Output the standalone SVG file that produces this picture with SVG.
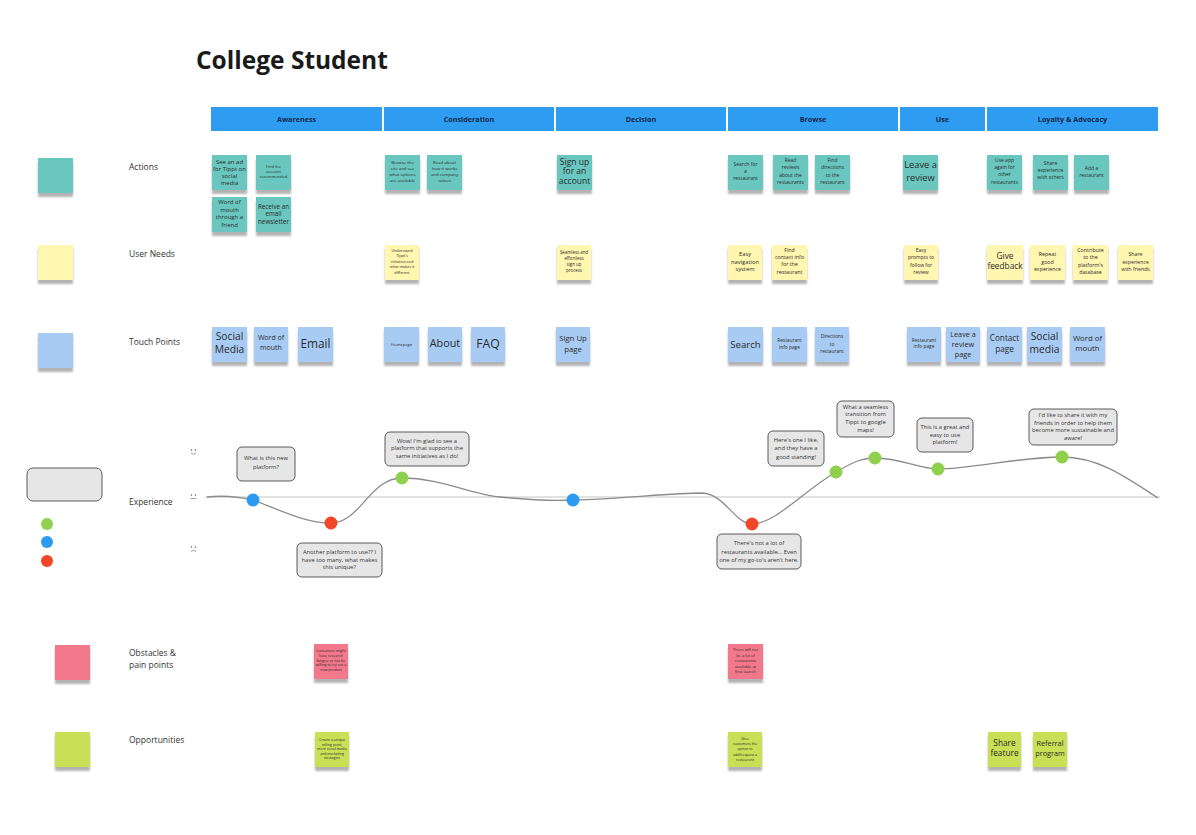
<svg xmlns="http://www.w3.org/2000/svg" width="1196" height="835" viewBox="0 0 1196 835">
<defs>
<filter id="sh" x="-30%" y="-30%" width="160%" height="170%">
<feGaussianBlur in="SourceAlpha" stdDeviation="1.2"/>
<feOffset dy="3.5"/>
<feComponentTransfer><feFuncA type="linear" slope="0.3"/></feComponentTransfer>
<feMerge><feMergeNode/><feMergeNode in="SourceGraphic"/></feMerge>
</filter>
</defs>
<style>
text{font-family:"Open Sans","Liberation Sans",sans-serif;fill:#2b2b2b;}
.c{text-anchor:middle;}
.teal{fill:#69c7c0;filter:url(#sh);}
.yel{fill:#fff6b0;filter:url(#sh);}
.blu{fill:#a8cbf3;filter:url(#sh);}
.pink{fill:#f2788c;filter:url(#sh);}
.grn{fill:#c9df57;filter:url(#sh);}
.hdr{fill:#2e9cf0;}
.htx{font-size:7.2px;font-weight:700;fill:#12284a;text-anchor:middle;}
.lbl{font-size:8.5px;fill:#333;}
.bub{fill:#e6e6e6;stroke:#5a5a5a;stroke-width:1;}
.bt{font-size:5.8px;fill:#333;text-anchor:middle;}
.dg{fill:#8fd14f;}
.db{fill:#2d9bf0;}
.dr{fill:#f24726;}
.face{fill:none;stroke:#777;stroke-width:0.7;}
</style>
<rect width="1196" height="835" fill="#ffffff"/>

<text x="196" y="69" style="font-size:24.5px;font-weight:700;fill:#1a1a1a">College Student</text>

<g id="stages">
<rect class="hdr" x="211" y="107" width="171" height="24"/><text class="htx" x="296.5" y="121.5">Awareness</text>
<rect class="hdr" x="384" y="107" width="170" height="24"/><text class="htx" x="469" y="121.5">Consideration</text>
<rect class="hdr" x="556" y="107" width="170" height="24"/><text class="htx" x="641" y="121.5">Decision</text>
<rect class="hdr" x="728" y="107" width="170" height="24"/><text class="htx" x="813" y="121.5">Browse</text>
<rect class="hdr" x="900" y="107" width="85" height="24"/><text class="htx" x="942.5" y="121.5">Use</text>
<rect class="hdr" x="987" y="107" width="171" height="24"/><text class="htx" x="1072.5" y="121.5">Loyalty &amp; Advocacy</text>
</g>

<g id="legend">
<rect class="teal" x="38" y="158" width="35" height="35"/>
<text class="lbl" x="129" y="169.5">Actions</text>
<rect class="yel" x="38" y="245" width="35" height="35"/>
<text class="lbl" x="129" y="257">User Needs</text>
<rect class="blu" x="38" y="333" width="35" height="35"/>
<text class="lbl" x="129" y="344.5">Touch Points</text>
<rect class="bub" x="27" y="468" width="75" height="33" rx="6"/>
<text class="lbl" x="129" y="505">Experience</text>
<circle class="dg" cx="47" cy="524" r="6"/>
<circle class="db" cx="47" cy="542" r="6"/>
<circle class="dr" cx="47" cy="561" r="6"/>
<rect class="pink" x="55" y="645" width="35" height="35"/>
<text class="lbl" x="129" y="656">Obstacles &amp;</text>
<text class="lbl" x="129" y="668">pain points</text>
<rect class="grn" x="55" y="732" width="35" height="35"/>
<text class="lbl" x="129" y="743">Opportunities</text>
</g>

<!-- Actions -->
<g id="a1"><rect class="teal" x="212" y="155" width="35" height="35"/><text class="c" style="font-size:6px"><tspan x="229.5" y="164">See an ad</tspan><tspan x="229.5" y="171">for Tippt on</tspan><tspan x="229.5" y="178">social</tspan><tspan x="229.5" y="185">media</tspan></text></g>
<g id="a2"><rect class="teal" x="256" y="155" width="35" height="35"/><text class="c" style="font-size:4px"><tspan x="273.5" y="168">Find the</tspan><tspan x="273.5" y="173">account</tspan><tspan x="273.5" y="178">recommended</tspan></text></g>
<g id="a3"><rect class="teal" x="212" y="197" width="35" height="35"/><text class="c" style="font-size:6px"><tspan x="229.5" y="204">Word of</tspan><tspan x="229.5" y="211.5">mouth</tspan><tspan x="229.5" y="219">through a</tspan><tspan x="229.5" y="226.5">friend</tspan></text></g>
<g id="a4"><rect class="teal" x="256" y="197" width="35" height="35"/><text class="c" style="font-size:6.3px"><tspan x="273.5" y="208.5">Receive an</tspan><tspan x="273.5" y="216">email</tspan><tspan x="273.5" y="223.5">newsletter</tspan></text></g>
<g id="a5"><rect class="teal" x="385" y="155" width="35" height="35"/><text class="c" style="font-size:4.3px"><tspan x="402.5" y="164">Browse the</tspan><tspan x="402.5" y="170">site and see</tspan><tspan x="402.5" y="176">what options</tspan><tspan x="402.5" y="182">are available</tspan></text></g>
<g id="a6"><rect class="teal" x="427" y="155" width="35" height="35"/><text class="c" style="font-size:4.3px"><tspan x="444.5" y="164">Read about</tspan><tspan x="444.5" y="170">how it works</tspan><tspan x="444.5" y="176">and company</tspan><tspan x="444.5" y="182">values</tspan></text></g>
<g id="a7"><rect class="teal" x="557" y="155" width="35" height="35"/><text class="c" style="font-size:8.5px"><tspan x="574.5" y="164.8">Sign up</tspan><tspan x="574.5" y="174.3">for an</tspan><tspan x="574.5" y="183.8">account</tspan></text></g>
<g id="a8"><rect class="teal" x="728" y="155" width="35" height="35"/><text class="c" style="font-size:5px"><tspan x="745.5" y="165.7">Search for</tspan><tspan x="745.5" y="172.8">a</tspan><tspan x="745.5" y="180.3">restaurant</tspan></text></g>
<g id="a9"><rect class="teal" x="773" y="155" width="35" height="35"/><text class="c" style="font-size:5px"><tspan x="790.5" y="161.7">Read</tspan><tspan x="790.5" y="169.1">reviews</tspan><tspan x="790.5" y="176.5">about the</tspan><tspan x="790.5" y="183.8">restaurants</tspan></text></g>
<g id="a10"><rect class="teal" x="815" y="155" width="35" height="35"/><text class="c" style="font-size:5px"><tspan x="832.5" y="161.7">Find</tspan><tspan x="832.5" y="169.1">directions</tspan><tspan x="832.5" y="176.5">to the</tspan><tspan x="832.5" y="183.8">restaurant</tspan></text></g>
<g id="a11"><rect class="teal" x="903" y="155" width="35" height="35"/><text class="c" style="font-size:9.3px"><tspan x="920.5" y="168.3">Leave a</tspan><tspan x="920.5" y="180.6">review</tspan></text></g>
<g id="a12"><rect class="teal" x="987" y="155" width="35" height="35"/><text class="c" style="font-size:5px"><tspan x="1004.5" y="161.7">Use app</tspan><tspan x="1004.5" y="169">again for</tspan><tspan x="1004.5" y="176.4">other</tspan><tspan x="1004.5" y="183.7">restaurants</tspan></text></g>
<g id="a13"><rect class="teal" x="1033" y="155" width="35" height="35"/><text class="c" style="font-size:5px"><tspan x="1050.5" y="165">Share</tspan><tspan x="1050.5" y="172.2">experience</tspan><tspan x="1050.5" y="179.3">with others</tspan></text></g>
<g id="a14"><rect class="teal" x="1074" y="155" width="35" height="35"/><text class="c" style="font-size:5px"><tspan x="1091.5" y="170">Add a</tspan><tspan x="1091.5" y="177">restaurant</tspan></text></g>

<!-- User needs -->
<g id="u1"><rect class="yel" x="385" y="245" width="34" height="35"/><text class="c" style="font-size:3.8px"><tspan x="402" y="251.5">Understand</tspan><tspan x="402" y="257">Tippt's</tspan><tspan x="402" y="262.5">initiative and</tspan><tspan x="402" y="268">what makes it</tspan><tspan x="402" y="273.5">different</tspan></text></g>
<g id="u2"><rect class="yel" x="557" y="245" width="34" height="35"/><text class="c" style="font-size:4.4px"><tspan x="574" y="254">Seamless and</tspan><tspan x="574" y="259.9">effortless</tspan><tspan x="574" y="265.8">sign up</tspan><tspan x="574" y="271.7">process</tspan></text></g>
<g id="u3"><rect class="yel" x="728" y="245" width="34" height="35"/><text class="c" style="font-size:5.8px"><tspan x="745" y="256.4">Easy</tspan><tspan x="745" y="263.5">navigation</tspan><tspan x="745" y="270.6">system</tspan></text></g>
<g id="u4"><rect class="yel" x="772" y="245" width="35" height="35"/><text class="c" style="font-size:5.3px"><tspan x="789.5" y="252">Find</tspan><tspan x="789.5" y="259.2">contact info</tspan><tspan x="789.5" y="266.4">for the</tspan><tspan x="789.5" y="273.6">restaurant</tspan></text></g>
<g id="u5"><rect class="yel" x="904" y="245" width="34" height="35"/><text class="c" style="font-size:5px"><tspan x="921" y="252">Easy</tspan><tspan x="921" y="259.4">prompts to</tspan><tspan x="921" y="266.8">follow for</tspan><tspan x="921" y="274.2">review</tspan></text></g>
<g id="u6"><rect class="yel" x="987" y="245" width="36" height="35"/><text class="c" style="font-size:8.3px"><tspan x="1005" y="259.3">Give</tspan><tspan x="1005" y="268.5">feedback</tspan></text></g>
<g id="u7"><rect class="yel" x="1030" y="245" width="35" height="35"/><text class="c" style="font-size:5.3px"><tspan x="1047.5" y="256.2">Repeat</tspan><tspan x="1047.5" y="263.5">good</tspan><tspan x="1047.5" y="270.8">experience</tspan></text></g>
<g id="u8"><rect class="yel" x="1073" y="245" width="35" height="35"/><text class="c" style="font-size:5.3px"><tspan x="1090.5" y="252">Contribute</tspan><tspan x="1090.5" y="259.4">to the</tspan><tspan x="1090.5" y="266.8">platform's</tspan><tspan x="1090.5" y="274.2">database</tspan></text></g>
<g id="u9"><rect class="yel" x="1118" y="245" width="35" height="35"/><text class="c" style="font-size:5.2px"><tspan x="1135.5" y="256.2">Share</tspan><tspan x="1135.5" y="263.5">experience</tspan><tspan x="1135.5" y="270.8">with friends</tspan></text></g>

<!-- Touch points -->
<g id="t1"><rect class="blu" x="212" y="327" width="35" height="35"/><text class="c" style="font-size:10.3px"><tspan x="229.5" y="339.8">Social</tspan><tspan x="229.5" y="353.2">Media</tspan></text></g>
<g id="t2"><rect class="blu" x="254" y="327" width="34" height="35"/><text class="c" style="font-size:7px"><tspan x="271" y="340.2">Word of</tspan><tspan x="271" y="350.2">mouth</tspan></text></g>
<g id="t3"><rect class="blu" x="298" y="327" width="35" height="35"/><text class="c" style="font-size:11.8px"><tspan x="315.5" y="347.5">Email</tspan></text></g>
<g id="t4"><rect class="blu" x="384" y="327" width="35" height="35"/><text class="c" style="font-size:4.2px"><tspan x="401.5" y="345.5">Homepage</tspan></text></g>
<g id="t5"><rect class="blu" x="428" y="327" width="34" height="35"/><text class="c" style="font-size:10.8px"><tspan x="445" y="347">About</tspan></text></g>
<g id="t6"><rect class="blu" x="471" y="327" width="34" height="35"/><text class="c" style="font-size:12.2px"><tspan x="488" y="347.7">FAQ</tspan></text></g>
<g id="t7"><rect class="blu" x="556" y="327" width="34" height="35"/><text class="c" style="font-size:7.8px"><tspan x="573" y="341">Sign Up</tspan><tspan x="573" y="352">page</tspan></text></g>
<g id="t8"><rect class="blu" x="728" y="327" width="35" height="35"/><text class="c" style="font-size:9.6px"><tspan x="745.5" y="347.5">Search</tspan></text></g>
<g id="t9"><rect class="blu" x="772" y="327" width="35" height="35"/><text class="c" style="font-size:4.8px"><tspan x="789.5" y="341.8">Restaurant</tspan><tspan x="789.5" y="348.5">info page</tspan></text></g>
<g id="t10"><rect class="blu" x="815" y="327" width="34" height="35"/><text class="c" style="font-size:4.8px"><tspan x="832" y="338">Directions</tspan><tspan x="832" y="345.6">to</tspan><tspan x="832" y="353">restaurant</tspan></text></g>
<g id="t11"><rect class="blu" x="907" y="327" width="34" height="35"/><text class="c" style="font-size:4.8px"><tspan x="924" y="341.8">Restaurant</tspan><tspan x="924" y="348">info page</tspan></text></g>
<g id="t12"><rect class="blu" x="946" y="327" width="34" height="35"/><text class="c" style="font-size:7.3px"><tspan x="963" y="336.6">Leave a</tspan><tspan x="963" y="346.6">review</tspan><tspan x="963" y="356.6">page</tspan></text></g>
<g id="t13"><rect class="blu" x="987" y="327" width="35" height="35"/><text class="c" style="font-size:8.2px"><tspan x="1004.5" y="341.3">Contact</tspan><tspan x="1004.5" y="352.3">page</tspan></text></g>
<g id="t14"><rect class="blu" x="1027" y="327" width="35" height="35"/><text class="c" style="font-size:10.3px"><tspan x="1044.5" y="340.3">Social</tspan><tspan x="1044.5" y="353">media</tspan></text></g>
<g id="t15"><rect class="blu" x="1070" y="327" width="35" height="35"/><text class="c" style="font-size:7.8px"><tspan x="1087.5" y="341">Word of</tspan><tspan x="1087.5" y="351">mouth</tspan></text></g>

<!-- Experience -->
<g id="axis">
<line x1="205" y1="497" x2="1160" y2="497" stroke="#c4c4c4" stroke-width="1"/>
<g class="face">
<circle cx="191.5" cy="450" r="0.5" fill="#777"/><circle cx="195.5" cy="450" r="0.5" fill="#777"/>
<path d="M191 453 Q193.5 455.5 196 453"/>
<circle cx="191.5" cy="495" r="0.5" fill="#777"/><circle cx="195.5" cy="495" r="0.5" fill="#777"/>
<path d="M190.5 498.5 H196.5"/>
<circle cx="191.5" cy="547" r="0.5" fill="#777"/><circle cx="195.5" cy="547" r="0.5" fill="#777"/>
<path d="M191 551.5 Q193.5 549 196 551.5"/>
</g>
</g>
<g id="connectors">
<path d="M207 497 C225 495 240 497 253 500 C280 510 305 523 331 523 C360 523 370 478 402 478 C440 478 470 494 500 497 C530 500 550 501 573 500 C620 499 670 493 702 493 C725 494 735 524 752 524 C775 524 805 490 836 472 C850 464 860 458 875 458 C900 458 920 469 938 469 C970 469 1020 457 1062 457 C1100 457 1130 480 1158 498" fill="none" stroke="#8c8c8c" stroke-width="1.3"/>
</g>
<g id="dots">
<circle class="db" cx="253" cy="500" r="6.5"/>
<circle class="dr" cx="331" cy="523" r="6.5"/>
<circle class="dg" cx="402" cy="478" r="6.5"/>
<circle class="db" cx="573" cy="500" r="6.5"/>
<circle class="dr" cx="752" cy="524" r="6.5"/>
<circle class="dg" cx="836" cy="472" r="6.5"/>
<circle class="dg" cx="875" cy="458" r="6.5"/>
<circle class="dg" cx="938" cy="469" r="6.5"/>
<circle class="dg" cx="1062" cy="457" r="6.5"/>
</g>
<g id="c1"><rect class="bub" x="237" y="447" width="58" height="34" rx="5"/><text class="bt"><tspan x="266" y="460.3">What is this new</tspan><tspan x="266" y="468.6">platform?</tspan></text></g>
<g id="c2"><rect class="bub" x="385" y="432" width="84" height="34" rx="5"/><text class="bt"><tspan x="427" y="442.7">Wow! I'm glad to see a</tspan><tspan x="427" y="450.3">platform that supports the</tspan><tspan x="427" y="458">same initiatives as I do!</tspan></text></g>
<g id="c3"><rect class="bub" x="297" y="543" width="85" height="34" rx="5"/><text class="bt"><tspan x="339.5" y="553.7">Another platform to use?? I</tspan><tspan x="339.5" y="561.5">have too many, what makes</tspan><tspan x="339.5" y="569.3">this unique?</tspan></text></g>
<g id="c4"><rect class="bub" x="717" y="534" width="84" height="35" rx="5"/><text class="bt"><tspan x="759" y="545.3">There's not a lot of</tspan><tspan x="759" y="553.6">restaurants available... Even</tspan><tspan x="759" y="562">one of my go-to's aren't here.</tspan></text></g>
<g id="c5"><rect class="bub" x="768" y="431" width="56" height="35" rx="5"/><text class="bt"><tspan x="796" y="442">Here's one I like,</tspan><tspan x="796" y="450.3">and they have a</tspan><tspan x="796" y="458.6">good standing!</tspan></text></g>
<g id="c6"><rect class="bub" x="837" y="401" width="57" height="36" rx="5"/><text class="bt"><tspan x="865.5" y="408.7">What a seamless</tspan><tspan x="865.5" y="416.4">transition from</tspan><tspan x="865.5" y="424.1">Tippt to google</tspan><tspan x="865.5" y="431.8">maps!</tspan></text></g>
<g id="c7"><rect class="bub" x="917" y="418" width="56" height="34" rx="5"/><text class="bt"><tspan x="945" y="428.7">This is a great and</tspan><tspan x="945" y="436.5">easy to use</tspan><tspan x="945" y="444.3">platform!</tspan></text></g>
<g id="c8"><rect class="bub" x="1029" y="409" width="88" height="36" rx="5"/><text class="bt"><tspan x="1073" y="417">I'd like to share it with my</tspan><tspan x="1073" y="424.6">friends in order to help them</tspan><tspan x="1073" y="432.2">become more sustainable and</tspan><tspan x="1073" y="439.8">aware!</tspan></text></g>

<!-- Obstacles -->
<g id="o1"><rect class="pink" x="314" y="644" width="34" height="35"/><text class="c" style="font-size:3.7px"><tspan x="331" y="652">Customers might</tspan><tspan x="331" y="656.8">have research</tspan><tspan x="331" y="661.6">fatigue or not be</tspan><tspan x="331" y="666.4">willing to try out a</tspan><tspan x="331" y="671.2">new product</tspan></text></g>
<g id="o2"><rect class="pink" x="728" y="644" width="35" height="35"/><text class="c" style="font-size:4px"><tspan x="745.5" y="651">There will not</tspan><tspan x="745.5" y="656.5">be a lot of</tspan><tspan x="745.5" y="662">restaurants</tspan><tspan x="745.5" y="667.5">available at</tspan><tspan x="745.5" y="673">first launch</tspan></text></g>

<!-- Opportunities -->
<g id="p1"><rect class="grn" x="315" y="732" width="34" height="35"/><text class="c" style="font-size:3.5px"><tspan x="332" y="741">Create a unique</tspan><tspan x="332" y="745.5">selling point,</tspan><tspan x="332" y="750">more social media</tspan><tspan x="332" y="754.5">and marketing</tspan><tspan x="332" y="759">strategies</tspan></text></g>
<g id="p2"><rect class="grn" x="728" y="732" width="34" height="35"/><text class="c" style="font-size:3.7px"><tspan x="745" y="740">Give</tspan><tspan x="745" y="745.2">customers the</tspan><tspan x="745" y="750.4">option to</tspan><tspan x="745" y="755.6">add/request a</tspan><tspan x="745" y="760.8">restaurant</tspan></text></g>
<g id="p3"><rect class="grn" x="988" y="732" width="33" height="35"/><text class="c" style="font-size:8.3px"><tspan x="1004.5" y="745.5">Share</tspan><tspan x="1004.5" y="756">feature</tspan></text></g>
<g id="p4"><rect class="grn" x="1033" y="732" width="34" height="35"/><text class="c" style="font-size:7.3px"><tspan x="1050" y="746">Referral</tspan><tspan x="1050" y="756">program</tspan></text></g>
</svg>
